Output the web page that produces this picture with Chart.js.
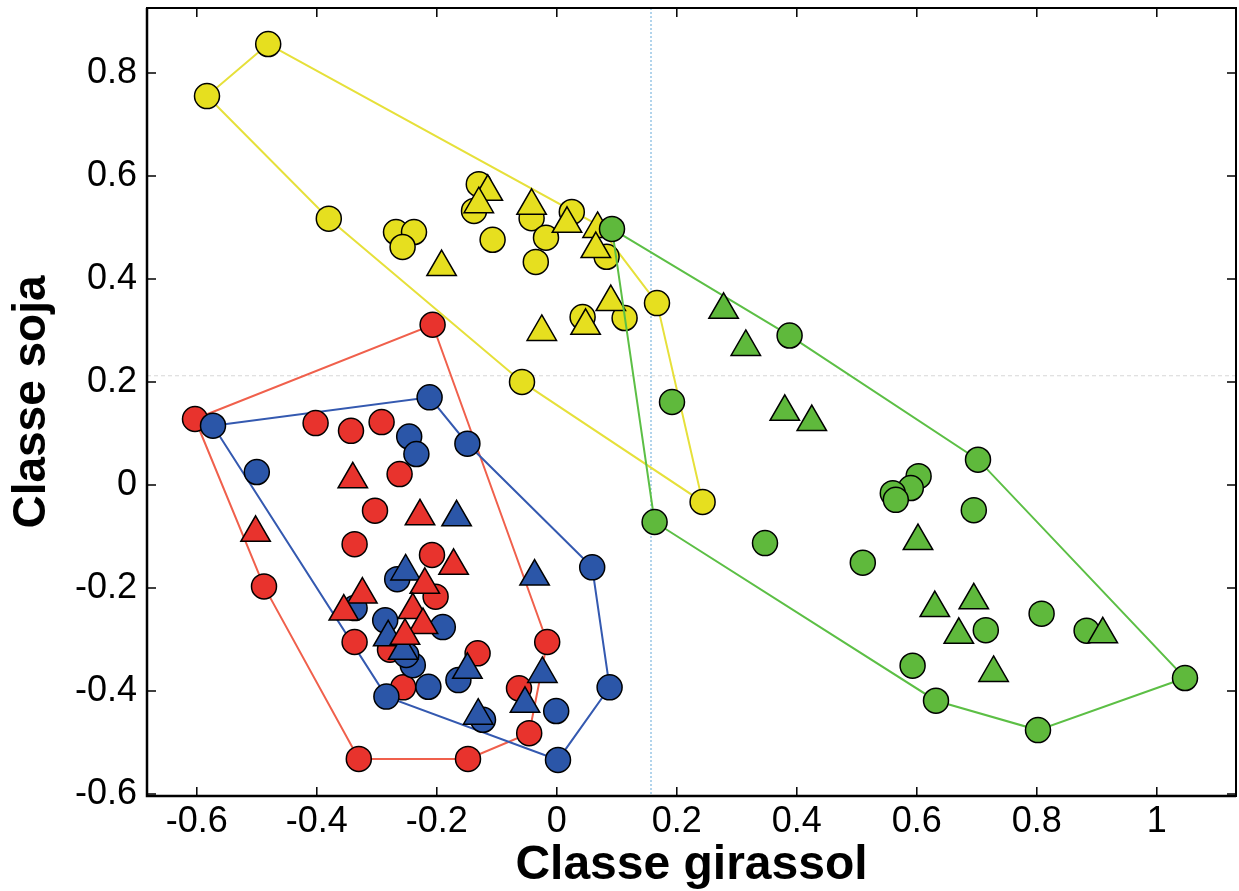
<!DOCTYPE html>
<html lang="pt">
<head>
<meta charset="UTF-8">
<title>Classe girassol x Classe soja</title>
<script src="https://cdn.jsdelivr.net/npm/chart.js"></script>
<style>
  html, body { margin: 0; padding: 0; background: #fff; }
  #wrap { width: 1239px; height: 891px; }
</style>
</head>
<body>
<div id="wrap"><canvas id="chart" width="1239" height="891"></canvas></div>
<script>
// tick values and labels
const xTicks = [-0.6, -0.4, -0.2, 0, 0.2, 0.4, 0.6, 0.8, 1];
const xTickLabels = ['-0.6', '-0.4', '-0.2', '0', '0.2', '0.4', '0.6', '0.8', '1'];
const yTicks = [-0.6, -0.4, -0.2, 0, 0.2, 0.4, 0.6, 0.8];
const yTickLabels = ['-0.6', '-0.4', '-0.2', '0', '0.2', '0.4', '0.6', '0.8'];

// dotted / dashed reference lines
const refX = 0.157;
const refY = 0.212;

// yellow group
const yellowCircles = [
  [-0.481, 0.856], [-0.583, 0.755], [-0.380, 0.517], [-0.268, 0.491], [-0.238, 0.491],
  [-0.257, 0.462], [-0.130, 0.584], [-0.138, 0.532], [-0.107, 0.476], [-0.042, 0.518],
  [-0.018, 0.480], [-0.035, 0.433], [-0.058, 0.200], [0.025, 0.530], [0.083, 0.443],
  [0.113, 0.324], [0.043, 0.326], [0.167, 0.353], [0.243, -0.033]
];
const yellowTriangles = [
  [-0.115, 0.569], [-0.130, 0.545], [-0.042, 0.542], [-0.192, 0.423], [-0.025, 0.297],
  [0.017, 0.507], [0.068, 0.497], [0.065, 0.458], [0.090, 0.355], [0.048, 0.309]
];
const yellowHull = [
  [-0.481, 0.856], [0.068, 0.505], [0.167, 0.353], [0.243, -0.033], [-0.058, 0.200],
  [-0.380, 0.517], [-0.583, 0.755], [-0.481, 0.856]
];

// red group
const redCircles = [
  [-0.603, 0.128], [-0.402, 0.120], [-0.343, 0.105], [-0.292, 0.122], [-0.262, 0.021],
  [-0.303, -0.050], [-0.337, -0.115], [-0.208, -0.136], [-0.488, -0.197], [-0.202, -0.217],
  [-0.337, -0.305], [-0.278, -0.320], [-0.132, -0.327], [-0.256, -0.393], [-0.016, -0.305],
  [-0.063, -0.395], [-0.046, -0.482], [-0.330, -0.532], [-0.148, -0.532], [-0.207, 0.311]
];
const redTriangles = [
  [-0.340, 0.011], [-0.228, -0.061], [-0.502, -0.093], [-0.172, -0.157], [-0.324, -0.213],
  [-0.220, -0.194], [-0.355, -0.246], [-0.240, -0.243], [-0.223, -0.272], [-0.253, -0.293]
];
const redHull = [
  [-0.603, 0.128], [-0.207, 0.311], [-0.016, -0.305], [-0.046, -0.482], [-0.148, -0.532],
  [-0.330, -0.532], [-0.488, -0.197], [-0.603, 0.128]
];

// blue group
const blueCircles = [
  [-0.573, 0.115], [-0.212, 0.170], [-0.500, 0.025], [-0.246, 0.094], [-0.234, 0.060],
  [-0.149, 0.080], [0.059, -0.160], [-0.266, -0.183], [-0.337, -0.239], [-0.286, -0.263],
  [-0.190, -0.276], [-0.240, -0.350], [-0.251, -0.330], [-0.284, -0.411], [-0.214, -0.392],
  [-0.164, -0.379], [-0.123, -0.456], [-0.001, -0.439], [0.088, -0.393], [0.002, -0.534]
];
const blueTriangles = [
  [-0.167, -0.063], [-0.037, -0.178], [-0.252, -0.168], [-0.281, -0.296], [-0.256, -0.322],
  [-0.149, -0.359], [-0.024, -0.367], [-0.053, -0.425], [-0.131, -0.448]
];
const blueHull = [
  [-0.573, 0.115], [-0.212, 0.170], [-0.149, 0.080], [0.059, -0.160], [0.088, -0.393],
  [0.002, -0.534], [-0.284, -0.411], [-0.573, 0.115]
];

// green group
const greenCircles = [
  [0.092, 0.497], [0.388, 0.290], [0.192, 0.161], [0.702, 0.049], [0.603, 0.017],
  [0.590, -0.006], [0.560, -0.016], [0.565, -0.029], [0.695, -0.049], [0.163, -0.072],
  [0.347, -0.113], [0.510, -0.151], [0.715, -0.282], [0.808, -0.250], [0.883, -0.283],
  [0.593, -0.351], [0.632, -0.419], [0.802, -0.476], [1.047, -0.375]
];
const greenTriangles = [
  [0.278, 0.340], [0.315, 0.268], [0.380, 0.142], [0.425, 0.122], [0.602, -0.109],
  [0.630, -0.239], [0.695, -0.224], [0.670, -0.291], [0.910, -0.290], [0.728, -0.365]
];
const greenHull = [
  [0.092, 0.497], [0.388, 0.290], [0.702, 0.049], [1.047, -0.375], [0.802, -0.476],
  [0.632, -0.419], [0.163, -0.072], [0.092, 0.497]
];

const toPts = arr => arr.map(([x, y]) => ({ x, y }));

const hull = (data, color) => ({
  type: 'line', data: toPts(data), borderColor: color, borderWidth: 2,
  pointRadius: 0, fill: false, tension: 0
});
const marks = (data, color, shape) => ({
  type: 'scatter', data: toPts(data), backgroundColor: color, borderColor: '#000',
  borderWidth: 1.5, pointStyle: shape, pointRadius: shape === 'triangle' ? 17 : 12.5
});

// bottom to top
const layers = [
  hull(redHull, '#f0604c'),
  hull(blueHull, '#3459b0'),
  marks(redCircles, '#e8332d', 'circle'),
  marks(blueCircles, '#2b56a8', 'circle'),
  marks(blueTriangles, '#2b56a8', 'triangle'),
  marks(redTriangles, '#e8332d', 'triangle'),
  hull(yellowHull, '#e6e03a'),
  marks(yellowCircles, '#e6df1f', 'circle'),
  marks(yellowTriangles, '#e6df1f', 'triangle'),
  hull(greenHull, '#5cbf45'),
  marks(greenCircles, '#5fb93c', 'circle'),
  marks(greenTriangles, '#5fb93c', 'triangle')
];
layers.forEach((d, i) => { d.order = layers.length - i; });

const framePlugin = {
  id: 'framePlugin',
  beforeDatasetsDraw(chart) {
    const { ctx, chartArea: a, scales: { x, y } } = chart;
    ctx.save();
    ctx.lineWidth = 1.2;
    ctx.strokeStyle = '#7fb8e0';
    ctx.setLineDash([2, 2]);
    const px = x.getPixelForValue(refX);
    ctx.beginPath(); ctx.moveTo(px, a.top); ctx.lineTo(px, a.bottom); ctx.stroke();
    ctx.strokeStyle = '#d8d8d8';
    ctx.setLineDash([4, 3]);
    const py = y.getPixelForValue(refY);
    ctx.beginPath(); ctx.moveTo(a.left, py); ctx.lineTo(a.right, py); ctx.stroke();
    ctx.restore();
  },
  afterDatasetsDraw(chart) {
    const { ctx, chartArea: a, scales: { x, y } } = chart;
    ctx.save();
    ctx.strokeStyle = '#000';
    ctx.lineWidth = 2;
    ctx.strokeRect(a.left, a.top, a.right - a.left, a.bottom - a.top);
    ctx.lineWidth = 2.5;
    ctx.beginPath();
    ctx.moveTo(a.left, a.top); ctx.lineTo(a.left, a.bottom); ctx.lineTo(a.right, a.bottom);
    ctx.stroke();
    ctx.lineWidth = 1.5;
    const len = 9;
    ctx.beginPath();
    xTicks.forEach(v => {
      const p = x.getPixelForValue(v);
      ctx.moveTo(p, a.bottom); ctx.lineTo(p, a.bottom - len);
      ctx.moveTo(p, a.top); ctx.lineTo(p, a.top + len);
    });
    yTicks.forEach(v => {
      const p = y.getPixelForValue(v);
      ctx.moveTo(a.left, p); ctx.lineTo(a.left + len, p);
      ctx.moveTo(a.right, p); ctx.lineTo(a.right - len, p);
    });
    ctx.stroke();
    ctx.restore();
  }
};

const sans = "'Liberation Sans', Arial, Helvetica, sans-serif";

new Chart(document.getElementById('chart').getContext('2d'), {
  data: { datasets: layers },
  options: {
    responsive: false,
    animation: false,
    events: [],
    layout: { autoPadding: false, padding: { top: 8, right: 3, left: 0, bottom: 0 } },
    plugins: { legend: { display: false }, tooltip: { enabled: false } },
    scales: {
      x: {
        type: 'linear', min: -0.683, max: 1.132,
        grid: { display: false, drawTicks: false },
        border: { display: false },
        afterBuildTicks: s => { s.ticks = xTicks.map(v => ({ value: v })); },
        afterFit: s => { s.height = 95; s.paddingLeft = 0; s.paddingRight = 0; },
        ticks: {
          padding: 4, color: '#000', maxRotation: 0,
          font: { family: sans, size: 36 },
          callback: (v, i) => xTickLabels[i]
        },
        title: {
          display: true, text: 'Classe girassol', color: '#000', padding: { top: 0, bottom: -4 },
          font: { family: sans, size: 48, weight: 'bold' }
        }
      },
      y: {
        type: 'linear', min: -0.604, max: 0.926,
        grid: { display: false, drawTicks: false },
        border: { display: false },
        afterBuildTicks: s => { s.ticks = yTicks.map(v => ({ value: v })); },
        afterFit: s => { s.width = 147; s.paddingTop = 0; s.paddingBottom = 0; },
        ticks: {
          padding: 10, color: '#000',
          font: { family: sans, size: 36 },
          callback: (v, i) => yTickLabels[i]
        },
        title: {
          display: true, text: 'Classe soja', color: '#000', padding: { top: 5, bottom: 0 },
          font: { family: sans, size: 46, weight: 'bold' }
        }
      }
    }
  },
  plugins: [framePlugin]
});
</script>
</body>
</html>
